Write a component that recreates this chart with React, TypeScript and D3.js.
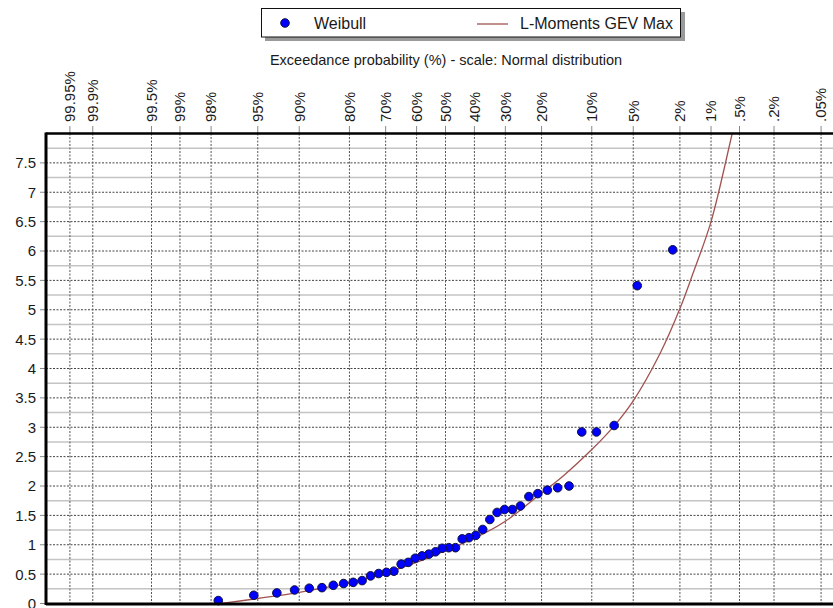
import React from "react";
import * as d3 from "d3";

// ---- data ----
// Observed values sorted from largest to smallest (Weibull plotting position = rank/(n+1))
const weibullValues = [
  6.02, 5.41, 3.03, 2.92, 2.92, 2.0, 1.97, 1.93, 1.87, 1.82,
  1.66, 1.6, 1.6, 1.55, 1.43, 1.26, 1.16, 1.12, 1.1, 0.95,
  0.95, 0.94, 0.88, 0.84, 0.81, 0.77, 0.7, 0.67, 0.55, 0.53,
  0.51, 0.47, 0.39, 0.36, 0.34, 0.31, 0.27, 0.26, 0.23, 0.18,
  0.14, 0.05,
];

// L-Moments GEV Max fitted curve (exceedance %, value)
const gevExceedance = [97.5, 95, 90, 80, 70, 60, 50, 40, 30, 20, 15, 10, 7, 5, 3, 2, 1.5, 1, 0.6, 0.5];
const gevValues = [0.0, 0.085, 0.19, 0.35, 0.52, 0.7, 0.9, 1.11, 1.4, 1.88, 2.18, 2.62, 3.02, 3.45, 4.26, 5.02, 5.63, 6.5, 8.0, 8.5];

// top axis ticks (exceedance %)
const probTicks = [99.95, 99.9, 99.5, 99, 98, 95, 90, 80, 70, 60, 50, 40, 30, 20, 10, 5, 2, 1, 0.5, 0.2, 0.05];
const probTickLabels = ["99.95%", "99.9%", "99.5%", "99%", "98%", "95%", "90%", "80%", "70%", "60%", "50%", "40%", "30%", "20%", "10%", "5%", "2%", "1%", ".5%", ".2%", ".05%"];

const yMajorTicks = [0, 0.5, 1, 1.5, 2, 2.5, 3, 3.5, 4, 4.5, 5, 5.5, 6, 6.5, 7, 7.5];
const yMinorTicks = [0.25, 0.75, 1.25, 1.75, 2.25, 2.75, 3.25, 3.75, 4.25, 4.75, 5.25, 5.75, 6.25, 6.75, 7.25, 7.75];
const yTickLabels = ["0", "0.5", "1", "1.5", "2", "2.5", "3", "3.5", "4", "4.5", "5", "5.5", "6", "6.5", "7", "7.5"];

const titleText = "Exceedance probability (%) - scale: Normal distribution";
const legendLabels = ["Weibull", "L-Moments GEV Max"];

// inverse standard normal CDF (Acklam) – used for the normal probability scale
function probit(p: number): number {
  const a = [-3.969683028665376e1, 2.209460984245205e2, -2.759285104469687e2, 1.38357751867269e2, -3.066479806614716e1, 2.506628277459239];
  const b = [-5.447609879822406e1, 1.615858368580409e2, -1.556989798598866e2, 6.680131188771972e1, -1.328068155288572e1];
  const c = [-7.784894002430293e-3, -3.223964580411365e-1, -2.400758277161838, -2.549732539343734, 4.374664141464968, 2.938163982698783];
  const d = [7.784695709041462e-3, 3.224671290700398e-1, 2.445134137142996, 3.754408661907416];
  const pl = 0.02425;
  const ph = 1 - pl;
  if (p < pl) {
    const q = Math.sqrt(-2 * Math.log(p));
    return (((((c[0] * q + c[1]) * q + c[2]) * q + c[3]) * q + c[4]) * q + c[5]) / ((((d[0] * q + d[1]) * q + d[2]) * q + d[3]) * q + 1);
  }
  if (p <= ph) {
    const q = p - 0.5;
    const r = q * q;
    return ((((((a[0] * r + a[1]) * r + a[2]) * r + a[3]) * r + a[4]) * r + a[5]) * q) / (((((b[0] * r + b[1]) * r + b[2]) * r + b[3]) * r + b[4]) * r + 1);
  }
  const q = Math.sqrt(-2 * Math.log(1 - p));
  return -(((((c[0] * q + c[1]) * q + c[2]) * q + c[3]) * q + c[4]) * q + c[5]) / ((((d[0] * q + d[1]) * q + d[2]) * q + d[3]) * q + 1);
}

const W = 833;
const H = 608;
const plotLeft = 46;
const plotRight = 845;
const plotTop = 133.5;
const plotBottom = 603.5;

const FONT = "'Liberation Sans', Arial, sans-serif";
const TEXT = "#1a1a1a";

export default function App() {
  const zScale = d3.scaleLinear().domain([-3.5, 3.5]).range([plotLeft, plotRight]);
  const xOf = (exceedPct: number) => zScale(probit(1 - exceedPct / 100));
  const y = d3.scaleLinear().domain([0, 8]).range([plotBottom, plotTop]);

  const n = weibullValues.length;
  const points = weibullValues.map((v, i) => ({ x: zScale(probit(1 - (i + 1) / (n + 1))), y: y(v) }));

  const curvePts: [number, number][] = gevExceedance.map((p, i) => [xOf(p), y(gevValues[i])]);
  const linePath = d3.line().curve(d3.curveCatmullRom.alpha(0.5))(curvePts) || "";

  return (
    <svg width={W} height={H} style={{ position: "absolute", left: 0, top: 0, background: "#fff" }}>
      <defs>
        <clipPath id="plotclip">
          <rect x={plotLeft} y={plotTop} width={plotRight - plotLeft} height={plotBottom - plotTop} />
        </clipPath>
      </defs>
      <rect x={0} y={0} width={W} height={H} fill="#fff" />

      {/* legend */}
      <rect x={265} y={12} width={420} height={29} fill="#9a9a9a" />
      <rect x={261.5} y={8.5} width={419} height={28.5} fill="#fff" stroke="#111" strokeWidth={1} />
      <circle cx={285} cy={23} r={4.3} fill="#0000ff" stroke="#101040" strokeWidth={1} />
      <text x={314} y={29} fontFamily={FONT} fontSize={16} fill={TEXT}>{legendLabels[0]}</text>
      <line x1={477} x2={508} y1={24} y2={24} stroke="#a0524f" strokeWidth={1.3} />
      <text x={520} y={29} fontFamily={FONT} fontSize={16} fill={TEXT}>{legendLabels[1]}</text>

      {/* title */}
      <text x={446} y={65} textAnchor="middle" fontFamily={FONT} fontSize={14.5} fill={TEXT}>{titleText}</text>

      {/* minor horizontal grid */}
      {yMinorTicks.map((t) => (
        <line key={"mn" + t} x1={plotLeft} x2={plotRight} y1={y(t)} y2={y(t)} stroke="#c4c4c4" strokeWidth={1.6} />
      ))}
      {/* major horizontal grid */}
      {yMajorTicks.map((t) => (
        <line key={"mj" + t} x1={plotLeft} x2={plotRight} y1={y(t)} y2={y(t)} stroke="#444" strokeWidth={1} strokeDasharray="2 1.5" />
      ))}
      {/* vertical grid */}
      {probTicks.map((p) => (
        <line key={"v" + p} x1={xOf(p)} x2={xOf(p)} y1={plotTop} y2={plotBottom} stroke="#555" strokeWidth={1} strokeDasharray="2 1.5" />
      ))}

      {/* y axis ticks and labels */}
      {yMajorTicks.map((t, i) => (
        <g key={"yt" + t}>
          <line x1={40} x2={plotLeft} y1={y(t)} y2={y(t)} stroke="#888" strokeWidth={1} />
          <text x={36} y={y(t)} dy="0.36em" textAnchor="end" fontFamily={FONT} fontSize={15} fill={TEXT}>{yTickLabels[i]}</text>
        </g>
      ))}

      {/* top axis ticks and labels */}
      {probTicks.map((p, i) => (
        <g key={"xt" + p}>
          <line x1={xOf(p)} x2={xOf(p)} y1={126} y2={plotTop} stroke="#888" strokeWidth={1} />
          <text
            transform={`translate(${xOf(p)},122) rotate(-90)`}
            dy="0.36em"
            textAnchor="start"
            fontFamily={FONT}
            fontSize={15}
            fill={TEXT}
          >
            {probTickLabels[i]}
          </text>
        </g>
      ))}

      {/* fitted curve */}
      <g clipPath="url(#plotclip)">
        <path d={linePath} fill="none" stroke="#a0524f" strokeWidth={1.3} />
      </g>

      {/* observations */}
      {points.map((pt, i) => (
        <circle key={"pt" + i} cx={pt.x} cy={pt.y} r={4.3} fill="#0000ff" stroke="#101040" strokeWidth={1} />
      ))}

      {/* frame */}
      <line x1={plotLeft} x2={plotLeft} y1={plotTop - 1} y2={plotBottom + 1.5} stroke="#000" strokeWidth={3} />
      <line x1={plotLeft} x2={W} y1={plotTop} y2={plotTop} stroke="#000" strokeWidth={2.5} />
      <line x1={plotLeft} x2={W} y1={plotBottom + 0.5} y2={plotBottom + 0.5} stroke="#000" strokeWidth={3} />
    </svg>
  );
}
